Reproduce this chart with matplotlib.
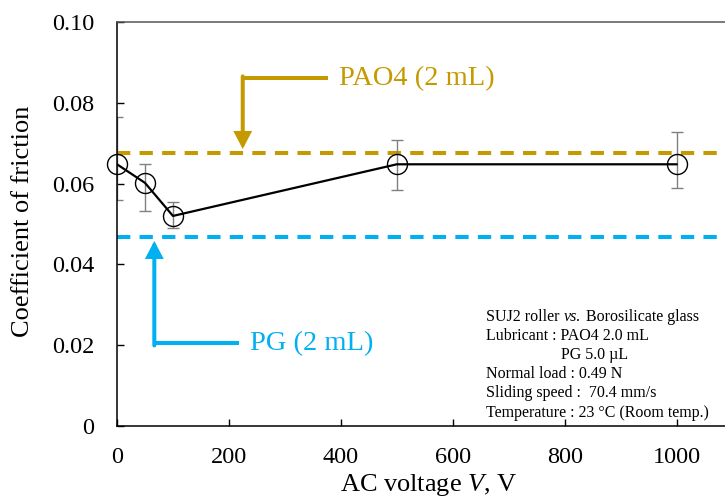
import matplotlib
matplotlib.use("Agg")
import matplotlib.pyplot as plt
import numpy as np

plt.rcParams['font.family'] = ['Liberation Serif', 'DejaVu Serif']
plt.rcParams['mathtext.fontset'] = 'custom'
plt.rcParams['mathtext.rm'] = 'Liberation Serif'
plt.rcParams['mathtext.it'] = 'Liberation Serif:italic'

# ---- data ----
voltage = [0, 50, 100, 500, 1000]
cof = [0.0648, 0.0602, 0.0520, 0.0648, 0.0648]
err_top = [0.0766, 0.0648, 0.0554, 0.0708, 0.0729]
err_bottom = [0.0559, 0.0533, 0.0491, 0.0585, 0.0590]
pao4_level = 0.0677
pg_level = 0.0468
x_ticks = [0, 200, 400, 600, 800, 1000]
y_ticks = [0, 0.02, 0.04, 0.06, 0.08, 0.10]
y_tick_labels = ["0", "0.02", "0.04", "0.06", "0.08", "0.10"]
info_first = ["SUJ2 roller", "vs.", "Borosilicate glass"]
info_lines = [
    "Lubricant : PAO4 2.0 mL",
    "PG 5.0 \u00b5L",
    "Normal load : 0.49 N",
    "Sliding speed :  70.4 mm/s",
    "Temperature : 23 \u00b0C (Room temp.)",
]

GOLD = '#C49A00'
BLUE = '#00B0F0'

W, H = 725, 497
fig = plt.figure(figsize=(W / 100, H / 100), dpi=100)
ax = fig.add_axes([117 / W, 71.3 / H, 615.5 / W, 403.4 / H])
ax.set_xlim(0, 1100)
ax.set_ylim(0, 0.10)

# reference lines
ax.axhline(pao4_level, color=GOLD, lw=2.9, dashes=(3.3, 2.3), zorder=1)
ax.axhline(pg_level, color=BLUE, lw=2.9, dashes=(3.3, 2.3), zorder=1)

# data with error bars
cof_arr = np.array(cof)
yerr = [cof_arr - np.array(err_bottom), np.array(err_top) - cof_arr]
ax.errorbar(voltage, cof, yerr=yerr, fmt='none', ecolor='#808080',
            elinewidth=1.0, capsize=4.3, capthick=1.0, zorder=2)
ax.plot(voltage, cof, color='black', lw=1.6, zorder=3)
ax.plot(voltage, cof, linestyle='none', marker='o', markersize=14.4,
        markerfacecolor='none', markeredgecolor='black', markeredgewidth=1.0,
        zorder=4, clip_on=False)

# PAO4 callout
ax.plot([377.6, 224.7], [0.0861, 0.0861], color=GOLD, lw=2.9,
        solid_capstyle='butt', zorder=5)
ax.annotate('', xy=(224.7, 0.0686), xytext=(224.7, 0.0861 + 0.0005),
            arrowprops=dict(arrowstyle='-|>,head_length=0.42,head_width=0.22',
                            mutation_scale=20, color=GOLD, lw=2.9,
                            shrinkA=0, shrinkB=0, joinstyle='miter'),
            zorder=5)
ax.text(396, 0.0861, "PAO4 (2 mL)", color=GOLD, fontsize=20.5,
        ha='left', va='center')

# PG callout
ax.plot([218, 66.7], [0.0204, 0.0204], color=BLUE, lw=2.9,
        solid_capstyle='butt', zorder=5)
ax.annotate('', xy=(66.7, 0.0458), xytext=(66.7, 0.0204 - 0.0005),
            arrowprops=dict(arrowstyle='-|>,head_length=0.42,head_width=0.22',
                            mutation_scale=20, color=BLUE, lw=2.9,
                            shrinkA=0, shrinkB=0, joinstyle='miter'),
            zorder=5)
ax.text(238, 0.0204, "PG (2 mL)", color=BLUE, fontsize=20.5,
        ha='left', va='center')

# axes styling
ax.spines['right'].set_visible(False)
ax.spines['top'].set_color('#555555')
ax.spines['top'].set_linewidth(1.1)
ax.spines['left'].set_linewidth(1.1)
ax.spines['bottom'].set_linewidth(1.1)
ax.set_xticks(x_ticks)
ax.set_yticks(y_ticks)
ax.set_yticklabels(y_tick_labels)
ax.tick_params(axis='x', direction='in', length=5, width=1, labelsize=17.5, pad=15.5)
ax.tick_params(axis='y', direction='in', length=5, width=1, labelsize=17.5, pad=16.5)

ax.set_xlabel(r"AC voltage $\mathit{V}$, V", fontsize=19, va='baseline')
ax.xaxis.set_label_coords(0.507, (425.7 - 491.5) / 403.4)
ax.set_ylabel("Coefficient of friction", fontsize=19, va='center')
ax.yaxis.set_label_coords((23 - 117) / 615.5, (425.7 - 221) / 403.4)

# info block
renderer = fig.canvas.get_renderer()
x0 = 486.0
space_px = 4.5
yb0 = 1 - 320.7 / H
styles = ['normal', 'italic', 'normal']
xpos = x0
for piece, st in zip(info_first, styles):
    t = fig.text(xpos / W, yb0, piece, fontsize=11.5, style=st,
                 ha='left', va='baseline')
    xpos += t.get_window_extent(renderer).width + space_px

baselines = [339.8, 358.9, 378.0, 397.2, 417.0]
x_starts = [486.0, 561.0, 486.0, 486.0, 486.0]
for line, yb, xs in zip(info_lines, baselines, x_starts):
    fig.text(xs / W, 1 - yb / H, line, fontsize=11.5, ha='left', va='baseline')

fig.savefig("out.png", dpi=100)
